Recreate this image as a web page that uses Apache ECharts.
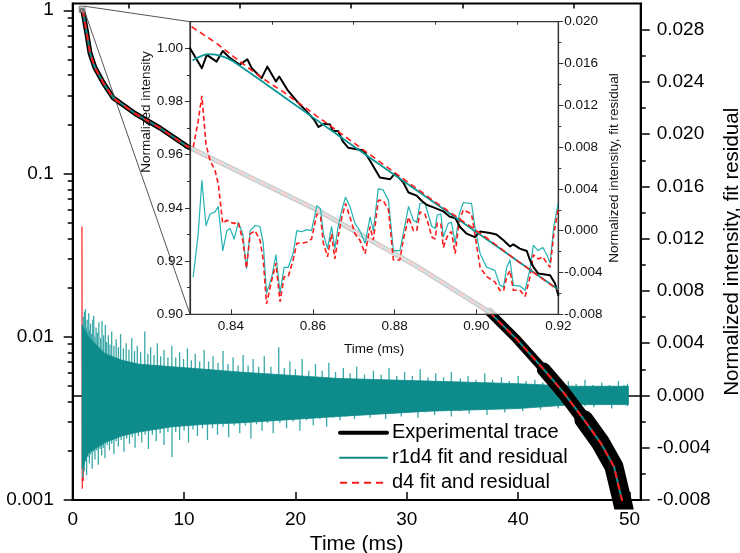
<!DOCTYPE html>
<html><head><meta charset="utf-8">
<script src="https://cdn.jsdelivr.net/npm/echarts@6/dist/echarts.min.js"></script>
<style>html,body{margin:0;padding:0;background:#fff}#c{width:740px;height:553px}</style>
</head><body><div id="c"></div>
<script>
// ---------- main plot: experimental trace (centre line) ----------
const expTime  = [0.83,0.95,1.1,1.26,1.55,2.0,2.75,3.65,5.6,7.84,10.24,21.9,30.9,37.4,39.9,42.3,44.1,45.9,47.4,48.6,49.3,50.0];
const expValue = [1.0,0.963,0.837,0.727,0.548,0.444,0.359,0.29,0.233,0.19,0.147,0.060,0.027,0.0142,0.0096,0.0063,0.00453,0.00311,0.00224,0.0016,0.00101,0.00062];
// ---------- main plot: residual band (right axis) ----------
const resTime  = [0.84,1.4,2.9,4.4,5.9,8.9,11.9,14.9,23.9,32,40,45,49.9];
const resUpper = [0.0054,0.0045,0.0032,0.0027,0.0024,0.0022,0.0020,0.0018,0.0013,0.0011,0.0009,0.0007,0.0007];
const resLower = [-0.0056,-0.0044,-0.0036,-0.0031,-0.0028,-0.0024,-0.0022,-0.0021,-0.0016,-0.0012,-0.0010,-0.0007,-0.0007];
const spikeUpTime  = [0.95,1.05,1.14,1.22,1.3,1.37,1.44,1.52,1.6,1.7,1.8,1.89,2.0,2.1,2.22,2.35,2.5,2.63,2.78,2.93,3.05,3.2,3.35,3.5,3.7,3.9,4.1,4.3,4.55,4.8,5.05,5.3,5.55,5.8,6.1,6.47,6.75,7.0,7.3,7.6,7.9,8.2,8.55,8.9,9.25,9.6,9.95,10.3,10.65,11.0,11.4,11.8,12.2,12.6,13.05,13.5,13.95,14.4,14.85,15.3,15.75,16.2,16.7,17.2,17.8,18.5,19.0,19.5,20.0,20.6,21.2,21.8,22.4,23.0,23.6,24.3,24.9,25.5,26.2,27.0,27.7,28.4,29.1,29.8,30.5,31.2,31.9,32.6,33.3,34.0,34.8,35.5,36.2,37.0,37.7,38.5,39.2,40.0,40.7,41.5,42.2,43.0,43.7,44.5,45.2,46.0,46.7,47.5,48.2,49.0,49.5,49.8];
const spikeUpValue = [0.0060,0.0064,0.0066,0.0052,0.0058,0.0049,0.0063,0.0050,0.0055,0.0047,0.0058,0.0061,0.0045,0.0052,0.0048,0.0056,0.0044,0.0057,0.0046,0.0054,0.0041,0.0046,0.0039,0.0049,0.0038,0.0043,0.0037,0.0047,0.0036,0.0040,0.0035,0.0044,0.0034,0.0038,0.0033,0.0049,0.0032,0.0037,0.0031,0.0040,0.0030,0.0035,0.0029,0.0038,0.0029,0.0033,0.0028,0.0036,0.0027,0.0032,0.0026,0.0035,0.0026,0.0030,0.0025,0.0034,0.0024,0.0029,0.0023,0.0031,0.0023,0.0028,0.0022,0.0030,0.0022,0.0037,0.0021,0.0026,0.0020,0.0028,0.0019,0.0024,0.0019,0.0025,0.0018,0.0021,0.0017,0.0022,0.0016,0.0019,0.0016,0.0021,0.0015,0.0018,0.0015,0.0020,0.0014,0.0017,0.0014,0.0018,0.0013,0.0015,0.0012,0.0017,0.0012,0.0014,0.0011,0.0015,0.0011,0.0012,0.0010,0.0013,0.0009,0.0011,0.0009,0.0012,0.0008,0.0010,0.0008,0.0011,0.0008,0.0009];
const spikeDownTime  = [0.9,1.0,1.05,1.15,1.25,1.38,1.5,1.62,1.75,1.88,2.0,2.15,2.3,2.45,2.6,2.75,2.9,3.1,3.3,3.5,3.7,3.9,4.1,4.35,4.6,4.85,5.1,5.35,5.6,5.9,6.2,6.5,6.8,7.15,7.5,7.85,8.2,8.55,8.92,9.25,9.6,10.0,10.4,10.8,11.2,11.65,12.1,12.55,13.0,13.5,14.0,14.5,15.0,15.5,16.0,16.5,17.0,17.5,18.0,18.6,19.2,19.8,20.4,21.0,21.6,22.2,22.8,23.4,24.0,24.6,25.3,26.0,26.7,27.4,28.1,28.8,29.5,30.2,31.0,31.7,32.5,33.2,34.0,34.8,35.6,36.4,37.2,38.0,38.8,39.6,40.4,41.2,42.0,42.8,43.6,44.4,45.2,46.0,46.8,47.6,48.4,49.1,49.8];
const spikeDownValue = [-0.0063,-0.0055,-0.0058,-0.0050,-0.0061,-0.0047,-0.0052,-0.0045,-0.0056,-0.0043,-0.0049,-0.0042,-0.0053,-0.0041,-0.0046,-0.0040,-0.0048,-0.0038,-0.0042,-0.0037,-0.0045,-0.0035,-0.0039,-0.0034,-0.0043,-0.0033,-0.0037,-0.0032,-0.0040,-0.0031,-0.0036,-0.0030,-0.0041,-0.0030,-0.0035,-0.0029,-0.0038,-0.0028,-0.0047,-0.0028,-0.0034,-0.0027,-0.0036,-0.0026,-0.0031,-0.0025,-0.0034,-0.0025,-0.0030,-0.0024,-0.0032,-0.0023,-0.0029,-0.0023,-0.0033,-0.0022,-0.0027,-0.0021,-0.0029,-0.0021,-0.0025,-0.0020,-0.0027,-0.0019,-0.0023,-0.0018,-0.0024,-0.0017,-0.0019,-0.0016,-0.0018,-0.0015,-0.0017,-0.0014,-0.0018,-0.0014,-0.0016,-0.0013,-0.0017,-0.0013,-0.0015,-0.0012,-0.0016,-0.0012,-0.0014,-0.0011,-0.0015,-0.0010,-0.0013,-0.0010,-0.0012,-0.0009,-0.0011,-0.0008,-0.0010,-0.0008,-0.0011,-0.0008,-0.0009,-0.0007,-0.0010,-0.0007,-0.0008];
const d4ResMainTime  = [0.83,0.86,0.90,0.95,1.00];
const d4ResMainValue = [0.0129,-0.0071,0.0030,-0.0065,0.0000];
// ---------- inset data ----------
const insetExpTime = [0.8300,0.8312,0.8329,0.8341,0.8365,0.8380,0.8398,0.8422,0.8440,0.8451,0.8475,0.8489,0.8510,0.8518,0.8538,0.8561,0.8585,0.8603,0.8614,0.8626,0.8642,0.8649,0.8662,0.8673,0.8687,0.8724,0.8740,0.8764,0.8789,0.8801,0.8821,0.8834,0.8854,0.8866,0.8878,0.8895,0.8919,0.8935,0.8948,0.8960,0.8976,0.8996,0.9009,0.9033,0.9049,0.9066,0.9082,0.9090,0.9106,0.9123,0.9131,0.9139,0.9151,0.9180,0.9192,0.9200];
const insetExpValue = [1.0000,0.9969,0.9925,0.9975,0.9950,0.9990,0.9963,0.9938,0.9959,0.9925,0.9888,0.9931,0.9875,0.9894,0.9844,0.9801,0.9763,0.9732,0.9704,0.9716,0.9714,0.9689,0.9689,0.9651,0.9626,0.9616,0.9577,0.9514,0.9508,0.9529,0.9496,0.9458,0.9446,0.9427,0.9412,0.9402,0.9387,0.9367,0.9362,0.9328,0.9303,0.9290,0.9311,0.9306,0.9300,0.9278,0.9255,0.9263,0.9247,0.9238,0.9203,0.9178,0.9153,0.9147,0.9116,0.9072];
const insetR1d4FitTime  = [0.8308,0.8345,0.8381,0.8406,0.8528,0.8650,0.8772,0.8895,0.9017,0.9098,0.9200];
const insetR1d4FitValue = [0.9956,0.9978,0.9969,0.9950,0.9819,0.9686,0.9554,0.9422,0.9291,0.9203,0.9093];
const insetD4FitTime  = [0.8304,0.8365,0.8406,0.8471,0.8528,0.8650,0.8772,0.8895,0.9017,0.9098,0.9200];
const insetD4FitValue = [1.0081,1.0019,0.9969,0.9894,0.9836,0.9701,0.9564,0.9427,0.9296,0.9203,0.9091];
const insetResTime = [0.8308,0.8320,0.8329,0.8339,0.8349,0.8361,0.8369,0.8380,0.8390,0.8398,0.8408,0.8418,0.8429,0.8438,0.8447,0.8459,0.8471,0.8479,0.8487,0.8500,0.8510,0.8520,0.8530,0.8540,0.8552,0.8561,0.8573,0.8585,0.8597,0.8610,0.8619,0.8626,0.8636,0.8646,0.8654,0.8662,0.8671,0.8680,0.8691,0.8703,0.8715,0.8728,0.8740,0.8748,0.8760,0.8772,0.8785,0.8797,0.8813,0.8821,0.8834,0.8846,0.8854,0.8862,0.8874,0.8882,0.8891,0.8899,0.8904,0.8913,0.8919,0.8931,0.8939,0.8948,0.8958,0.8968,0.8988,0.8996,0.9009,0.9025,0.9045,0.9057,0.9066,0.9074,0.9082,0.9090,0.9106,0.9119,0.9131,0.9139,0.9151,0.9162,0.9172,0.9180,0.9189,0.9200];
const insetR1d4Res = [-0.0044,-0.0003,0.0048,0.0005,0.0016,0.0018,0.0023,-0.0019,0.0000,0.0002,-0.0008,0.0008,-0.0003,-0.0036,0.0000,0.0005,0.0004,-0.0012,-0.0060,-0.0044,-0.0023,-0.0060,-0.0035,-0.0035,-0.0022,0.0000,-0.0001,0.0001,0.0000,0.0024,0.0021,-0.0003,-0.0017,0.0004,-0.0017,0.0004,0.0020,0.0032,0.0023,0.0007,0.0000,-0.0012,0.0013,0.0000,0.0040,0.0039,0.0029,-0.0019,-0.0019,-0.0003,0.0023,0.0010,0.0008,0.0026,0.0027,0.0016,0.0004,0.0002,0.0015,0.0016,-0.0006,0.0007,0.0008,-0.0012,0.0016,0.0027,0.0026,0.0004,-0.0022,-0.0035,-0.0038,-0.0052,-0.0054,-0.0035,-0.0028,-0.0052,-0.0053,-0.0057,-0.0036,-0.0014,-0.0019,-0.0016,-0.0023,-0.0031,0.0004,0.0027];
const insetD4Res = [0.0080,0.0105,0.0129,0.0083,0.0067,0.0058,0.0045,0.0007,0.0010,0.0008,0.0007,0.0008,-0.0009,-0.0036,-0.0003,0.0000,-0.0009,-0.0028,-0.0070,-0.0047,-0.0031,-0.0068,-0.0044,-0.0044,-0.0028,-0.0012,-0.0012,-0.0011,-0.0008,0.0016,0.0013,-0.0012,-0.0025,-0.0003,-0.0027,-0.0006,0.0013,0.0026,0.0013,-0.0003,-0.0009,-0.0022,0.0004,-0.0009,0.0029,0.0029,0.0020,-0.0028,-0.0028,-0.0009,0.0013,0.0000,0.0000,0.0018,0.0016,0.0007,-0.0006,-0.0008,0.0007,0.0007,-0.0016,-0.0003,-0.0001,-0.0022,0.0010,0.0020,0.0016,-0.0003,-0.0035,-0.0044,-0.0049,-0.0057,-0.0058,-0.0044,-0.0038,-0.0057,-0.0057,-0.0063,-0.0044,-0.0023,-0.0027,-0.0025,-0.0031,-0.0035,-0.0003,0.0021];
// ---------- ticks ----------
const xMajor = [0,10,20,30,40,50];
const xMinor = [5,15,25,35,45];
const yLogMajor = [0.001,0.01,0.1,1];
const yLogMinor = [0.002,0.003,0.004,0.005,0.006,0.007,0.008,0.009,0.02,0.03,0.04,0.05,0.06,0.07,0.08,0.09,0.2,0.3,0.4,0.5,0.6,0.7,0.8,0.9];
const yResMajor = [-0.008,-0.004,0,0.004,0.008,0.012,0.016,0.020,0.024,0.028];
const yResMinor = [-0.006,-0.002,0.002,0.006,0.010,0.014,0.018,0.022,0.026];
const insetXMajor = [0.84,0.86,0.88,0.90,0.92];
const insetXMinor = [0.83,0.85,0.87,0.89,0.91];
const insetYMajor = [0.90,0.92,0.94,0.96,0.98,1.00];
const insetYMinor = [0.91,0.93,0.95,0.97,0.99];
const insetRMajor = [-0.008,-0.004,0,0.004,0.008,0.012,0.016,0.020];
const insetRMinor = [-0.006,-0.002,0.002,0.006,0.010,0.014,0.018];
const zoomBox = [[0.59,1.058],[1.10,0.972]];

const FONT = 'Liberation Sans, Arial, sans-serif';
const TEAL = '#0e8c8c', TEAL_L = '#3aa8a8', TEAL_I = '#22b2b2', RED = '#ff1a1a';
const pairs = (a,b) => a.map((t,i)=>[t,b[i]]);

function ax(o){
  const base = {
    type:'value', splitLine:{show:false},
    axisLine:{show:false,onZero:false}, axisTick:{show:false}, axisLabel:{show:false}
  };
  return Object.assign(base,o);
}
const mainLine = {show:true,onZero:false,lineStyle:{color:'#000',width:2}};
const mainLab = (vals,fmt,margin)=>({show:true,customValues:vals,formatter:fmt,margin:margin,fontSize:19,fontFamily:FONT,color:'#000'});
const tick = (vals,len,inside,color,w)=>({show:true,customValues:vals,length:len,inside:inside,lineStyle:{color:color,width:w}});
const inLine = {show:true,onZero:false,lineStyle:{color:'#333',width:1.2}};
const inLab = (vals,fmt,margin)=>({show:true,customValues:vals,formatter:fmt,margin:margin,fontSize:13.5,fontFamily:FONT,color:'#111'});

const xAxis = [
  ax({gridIndex:0,min:0,max:51,axisLine:mainLine,axisTick:tick(xMajor,8,true,'#000',1.5),
      axisLabel:mainLab(xMajor,v=>String(v),10),
      name:'Time (ms)',nameLocation:'middle',nameGap:30,nameTextStyle:{fontSize:21,fontFamily:FONT,color:'#000'}}),
  ax({gridIndex:0,min:0,max:51,axisTick:tick(xMinor,5,true,'#000',1.5)}),
  ax({gridIndex:1,min:0.83,max:0.92,axisLine:inLine,axisTick:tick(insetXMajor,5,true,'#333',1),
      axisLabel:inLab(insetXMajor,v=>v.toFixed(2),5),z:7,
      name:'Time (ms)',nameLocation:'middle',nameGap:28,nameTextStyle:{fontSize:13.5,fontFamily:FONT,color:'#111'}}),
  ax({gridIndex:1,min:0.83,max:0.92,axisTick:tick(insetXMinor,3,true,'#333',1),z:7})
];
const yAxis = [
  ax({type:'log',logBase:10,gridIndex:0,min:0.001,max:1.1,position:'left',axisLine:mainLine,
      axisTick:tick(yLogMajor,9,false,'#000',1.5),
      axisLabel:mainLab(yLogMajor,v=>String(+(+v).toPrecision(3)),19),
      name:'Normalized intensity',nameLocation:'middle',nameGap:45,
      nameTextStyle:{fontSize:21,fontFamily:FONT,color:'#000',padding:[0,0,0,66]}}),
  ax({gridIndex:0,min:-0.008,max:0.030,position:'right',axisLine:mainLine,
      axisTick:tick(yResMajor,9,false,'#000',1.5),
      axisLabel:mainLab(yResMajor,v=>(+v).toFixed(3),16),
      name:'Normalized intensity, fit residual',nameLocation:'middle',nameGap:76,
      nameTextStyle:{fontSize:20.5,fontFamily:FONT,color:'#000'}}),
  ax({type:'log',logBase:10,gridIndex:0,min:0.001,max:1.1,position:'left',axisTick:tick(yLogMinor,5,false,'#000',1.5)}),
  ax({gridIndex:0,min:-0.008,max:0.030,position:'right',axisTick:tick(yResMinor,5,false,'#000',1.5)}),
  ax({gridIndex:1,min:0.90,max:1.01,position:'left',axisLine:inLine,z:7,
      axisTick:tick(insetYMajor,5,false,'#333',1),axisLabel:inLab(insetYMajor,v=>(+v).toFixed(2),7),
      name:'Normalized intensity',nameLocation:'middle',nameGap:34,
      nameTextStyle:{fontSize:13.5,fontFamily:FONT,color:'#111',padding:[0,0,0,112]}}),
  ax({gridIndex:1,min:0.90,max:1.01,position:'left',z:7,axisTick:tick(insetYMinor,3,false,'#333',1)}),
  ax({gridIndex:1,min:-0.008,max:0.020,position:'right',axisLine:inLine,z:7,
      axisTick:tick(insetRMajor,5,false,'#333',1),axisLabel:inLab(insetRMajor,v=>(+v).toFixed(3),6),
      name:'Normalized intensity, fit residual',nameLocation:'middle',nameGap:49,
      nameTextStyle:{fontSize:13.5,fontFamily:FONT,color:'#111'}}),
  ax({gridIndex:1,min:-0.008,max:0.020,position:'right',z:7,axisTick:tick(insetRMinor,3,false,'#333',1)})
];

const expData = pairs(expTime,expValue);
const lineS = (name,data,xi,yi,color,width,z,extra)=>Object.assign({
  type:'line',name:name,data:data,xAxisIndex:xi,yAxisIndex:yi,symbol:'none',showSymbol:false,
  lineStyle:{color:color,width:width,cap:'round',join:'round'},itemStyle:{color:color},z:z,clip:true,animation:false
},extra||{});

const series = [
  lineS('Experimental trace',expData.slice(0,14),0,0,'#000',5,3),
  lineS('r1d4 fit and residual',expData,0,0,TEAL,2,4),
  lineS('d4 fit and residual',expData,0,0,RED,2,4,{lineStyle:{color:RED,width:2,type:[7,5]},
     markArea:{silent:true,z:5,itemStyle:{color:'rgba(185,185,185,0.55)',borderColor:'#777',borderWidth:1},
       data:[[{coord:zoomBox[0]},{coord:zoomBox[1]}]]}}),
  lineS('Experimental trace',expData.slice(13,16),0,0,'#000',9,3),
  lineS('Experimental trace',expData.slice(15,18),0,0,'#000',14,3),
  lineS('Experimental trace',expData.slice(17),0,0,'#000',19,3),
  lineS('d4 fit and residual',pairs(d4ResMainTime,d4ResMainValue),0,1,RED,1.2,1,{
     markLine:{silent:true,z:1,symbol:['none','none'],label:{show:false},animation:false,
       lineStyle:{color:'#000',width:1.5,type:'solid'},data:[{yAxis:0}]}}),
  {type:'custom',name:'r1d4 fit and residual',xAxisIndex:0,yAxisIndex:1,z:2,clip:true,animation:false,
   data:pairs(spikeUpTime,spikeUpValue).concat(pairs(spikeDownTime,spikeDownValue)),
   renderItem:(p,api)=>{const a=api.coord([api.value(0),0]),b=api.coord([api.value(0),api.value(1)]);
     return {type:'line',shape:{x1:a[0],y1:a[1],x2:b[0],y2:b[1]},style:{stroke:TEAL_L,lineWidth:1.3}};}},
  {type:'custom',name:'r1d4 fit and residual',xAxisIndex:0,yAxisIndex:1,z:2,clip:true,animation:false,
   data:resTime.map((t,i)=>[t,resUpper[i],resLower[i]]),
   renderItem:(p,api)=>{const i=p.dataIndex; if(i>=resTime.length-1) return null;
     const pts=[api.coord([resTime[i],resUpper[i]]),api.coord([resTime[i+1],resUpper[i+1]]),
                api.coord([resTime[i+1],resLower[i+1]]),api.coord([resTime[i],resLower[i]])];
     return {type:'polygon',shape:{points:pts},style:{fill:TEAL,stroke:TEAL,lineWidth:0.8}};}},
  // inset
  lineS('r1d4 fit and residual',pairs(insetResTime,insetR1d4Res),2,6,TEAL_I,1.2,6),
  lineS('d4 fit and residual',pairs(insetResTime,insetD4Res),2,6,RED,1.6,7,{lineStyle:{color:RED,width:1.6,type:[5,3]}}),
  lineS('Experimental trace',pairs(insetExpTime,insetExpValue),2,4,'#000',2,7),
  lineS('r1d4 fit and residual',pairs(insetR1d4FitTime,insetR1d4FitValue),2,4,'#0a9696',1.8,8,{smooth:0.3}),
  lineS('d4 fit and residual',pairs(insetD4FitTime,insetD4FitValue),2,4,RED,1.6,9,{lineStyle:{color:RED,width:1.6,type:[6,4]}})
];

const option = {
  animation:false,
  backgroundColor:'#fff',
  textStyle:{fontFamily:FONT},
  grid:[
    {left:72.7,right:99.3,top:3.5,bottom:53,show:true,borderColor:'#000',borderWidth:2,backgroundColor:'transparent',containLabel:false,outerBoundsMode:'none'},
    {left:190,right:181.7,top:21.7,bottom:238.7,show:true,borderColor:'#333',borderWidth:1.2,backgroundColor:'rgba(255,255,255,0.8)',z:5,containLabel:false,outerBoundsMode:'none'}
  ],
  legend:{orient:'vertical',left:338,top:422.7,padding:0,itemWidth:47,itemHeight:14,itemGap:5,selectedMode:false,
    textStyle:{fontSize:20,fontFamily:FONT,color:'#000'},
    data:[
      {name:'Experimental trace',itemStyle:{opacity:0},lineStyle:{color:'#000',width:4}},
      {name:'r1d4 fit and residual',itemStyle:{opacity:0},lineStyle:{color:TEAL,width:2}},
      {name:'d4 fit and residual',itemStyle:{opacity:0},lineStyle:{color:RED,width:2,type:[7,5]}}
    ]},
  xAxis:xAxis, yAxis:yAxis, series:series
};

const chart = echarts.init(document.getElementById('c'),null,{renderer:'canvas'});
chart.setOption(option);
// connecting lines from the zoom box to the inset corners (positions via the axes)
const pTop = chart.convertToPixel({seriesIndex:0},[zoomBox[1][0],zoomBox[0][1]]);
const pBot = chart.convertToPixel({seriesIndex:0},[zoomBox[1][0],zoomBox[1][1]]);
const qTop = chart.convertToPixel({seriesIndex:11},[0.83,1.01]);
const qBot = chart.convertToPixel({seriesIndex:11},[0.83,0.90]);
chart.setOption({graphic:[
  {type:'line',z:4,silent:true,shape:{x1:pTop[0],y1:pTop[1],x2:qTop[0],y2:qTop[1]},style:{stroke:'#555',lineWidth:1}},
  {type:'line',z:4,silent:true,shape:{x1:pBot[0],y1:pBot[1],x2:qBot[0],y2:qBot[1]},style:{stroke:'#555',lineWidth:1}}
]});
</script></body></html>
